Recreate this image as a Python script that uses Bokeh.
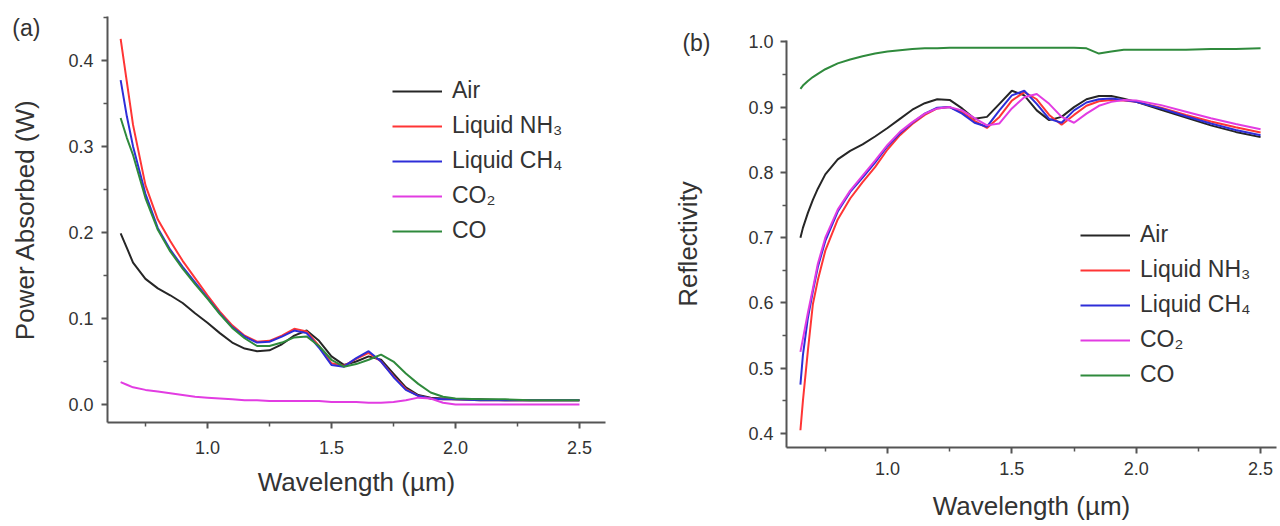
from bokeh.plotting import figure
from bokeh.layouts import row, column
from bokeh.models import Range1d, FixedTicker, Legend, LegendItem, Label, NumeralTickFormatter
from bokeh.embed import file_html
from bokeh.resources import INLINE

# ---------------- data ----------------
series_names = ["Air", "Liquid NH\u2083", "Liquid CH\u2084", "CO\u2082", "CO"]
series_colors = ["#262626", "#ff3535", "#2e2ed8", "#e23ce2", "#2f8a3c"]

# Panel (a): power absorbed (W)
wl_a = [0.65, 0.675, 0.7, 0.75, 0.8, 0.85, 0.9, 0.95, 1.0, 1.05, 1.1, 1.15, 1.2, 1.25,
        1.3, 1.35, 1.4, 1.45, 1.5, 1.55, 1.6, 1.65, 1.7, 1.75, 1.8, 1.85, 1.9, 1.95,
        2.0, 2.1, 2.2, 2.3, 2.4, 2.5]
a_air = [0.199, 0.182, 0.165, 0.146, 0.135, 0.127, 0.118, 0.106, 0.095, 0.083, 0.072, 0.065,
         0.062, 0.063, 0.070, 0.080, 0.086, 0.074, 0.056, 0.046, 0.050, 0.056, 0.052, 0.036,
         0.020, 0.011, 0.008, 0.007, 0.006, 0.006, 0.005, 0.005, 0.005, 0.005]
a_nh3 = [0.425, 0.375, 0.325, 0.255, 0.215, 0.190, 0.167, 0.147, 0.127, 0.108, 0.092, 0.080,
         0.073, 0.074, 0.080, 0.088, 0.085, 0.068, 0.048, 0.045, 0.053, 0.060, 0.050, 0.033,
         0.018, 0.010, 0.007, 0.006, 0.006, 0.005, 0.005, 0.005, 0.005, 0.005]
a_ch4 = [0.377, 0.335, 0.300, 0.245, 0.205, 0.180, 0.160, 0.142, 0.124, 0.106, 0.090, 0.079,
         0.072, 0.073, 0.079, 0.086, 0.083, 0.066, 0.046, 0.044, 0.054, 0.062, 0.050, 0.032,
         0.017, 0.010, 0.007, 0.006, 0.006, 0.005, 0.005, 0.005, 0.005, 0.005]
a_co2 = [0.026, 0.023, 0.020, 0.017, 0.015, 0.013, 0.011, 0.009, 0.008, 0.007, 0.006, 0.005,
         0.005, 0.004, 0.004, 0.004, 0.004, 0.004, 0.003, 0.003, 0.003, 0.002, 0.002, 0.003,
         0.005, 0.008, 0.007, 0.002, 0.000, 0.000, 0.000, 0.000, 0.000, 0.000]
a_co = [0.333, 0.310, 0.290, 0.240, 0.203, 0.178, 0.158, 0.140, 0.123, 0.105, 0.089, 0.077,
        0.068, 0.068, 0.072, 0.078, 0.079, 0.068, 0.052, 0.044, 0.047, 0.052, 0.058, 0.050,
        0.036, 0.024, 0.014, 0.009, 0.007, 0.006, 0.006, 0.005, 0.005, 0.005]

# Panel (b): reflectivity
wl_b = [0.65, 0.66, 0.68, 0.7, 0.72, 0.75, 0.8, 0.85, 0.9, 0.95, 1.0, 1.05, 1.1, 1.15, 1.2,
        1.25, 1.3, 1.35, 1.4, 1.45, 1.5, 1.55, 1.6, 1.65, 1.7, 1.75, 1.8, 1.85, 1.9, 1.95,
        2.0, 2.1, 2.2, 2.3, 2.4, 2.5]
b_air = [0.700, 0.715, 0.738, 0.758, 0.775, 0.797, 0.820, 0.833, 0.843, 0.855, 0.868, 0.882,
         0.896, 0.906, 0.912, 0.911, 0.898, 0.882, 0.885, 0.905, 0.925, 0.918, 0.895, 0.880,
         0.885, 0.900, 0.912, 0.917, 0.917, 0.913, 0.908, 0.896, 0.884, 0.872, 0.862, 0.854]
b_nh3 = [0.405, 0.450, 0.527, 0.598, 0.635, 0.680, 0.728, 0.760, 0.785, 0.808, 0.835, 0.857,
         0.874, 0.888, 0.898, 0.900, 0.892, 0.879, 0.868, 0.885, 0.910, 0.923, 0.912, 0.888,
         0.873, 0.888, 0.902, 0.909, 0.911, 0.910, 0.908, 0.899, 0.888, 0.878, 0.869, 0.861]
b_ch4 = [0.475, 0.520, 0.577, 0.618, 0.655, 0.695, 0.740, 0.770, 0.792, 0.815, 0.840, 0.860,
         0.876, 0.890, 0.899, 0.900, 0.890, 0.876, 0.870, 0.895, 0.918, 0.925, 0.905, 0.882,
         0.876, 0.895, 0.907, 0.912, 0.913, 0.911, 0.908, 0.898, 0.886, 0.875, 0.865, 0.857]
b_co2 = [0.525, 0.545, 0.585, 0.622, 0.660, 0.700, 0.743, 0.772, 0.795, 0.818, 0.842, 0.862,
         0.877, 0.890, 0.898, 0.900, 0.895, 0.883, 0.872, 0.875, 0.898, 0.915, 0.920, 0.905,
         0.885, 0.876, 0.890, 0.902, 0.908, 0.911, 0.910, 0.903, 0.893, 0.883, 0.874, 0.866]
b_co = [0.928, 0.933, 0.940, 0.946, 0.951, 0.958, 0.967, 0.973, 0.978, 0.982, 0.985, 0.987,
        0.989, 0.990, 0.990, 0.991, 0.991, 0.991, 0.991, 0.991, 0.991, 0.991, 0.991, 0.991,
        0.991, 0.991, 0.990, 0.982, 0.985, 0.988, 0.988, 0.988, 0.988, 0.989, 0.989, 0.990]

x_major_ticks = [1.0, 1.5, 2.0, 2.5]
x_minor_ticks = [0.75, 1.25, 1.75, 2.25]
ya_major_ticks = [0.0, 0.1, 0.2, 0.3, 0.4]
ya_minor_ticks = [0.05, 0.15, 0.25, 0.35, 0.45]
yb_major_ticks = [0.4, 0.5, 0.6, 0.7, 0.8, 0.9, 1.0]
yb_minor_ticks = [0.45, 0.55, 0.65, 0.75, 0.85, 0.95]

FONT = "Liberation Sans"
TXT = "#333333"
AX = "#555555"


def style_axes(p, xt_standoff, yt_standoff, xl_standoff, yl_standoff):
    for ax in (p.xaxis[0], p.yaxis[0]):
        ax.axis_line_color = AX
        ax.axis_line_width = 2
        ax.major_tick_line_color = AX
        ax.major_tick_line_width = 2
        ax.minor_tick_line_color = AX
        ax.minor_tick_line_width = 1.5
        ax.major_tick_out = 6
        ax.major_tick_in = 0
        ax.minor_tick_out = 4
        ax.minor_tick_in = 0
        ax.major_label_text_font = FONT
        ax.major_label_text_font_size = "18px"
        ax.major_label_text_color = TXT
        ax.axis_label_text_font = FONT
        ax.axis_label_text_font_size = "26px"
        ax.axis_label_text_font_style = "normal"
        ax.axis_label_text_color = TXT
        ax.formatter = NumeralTickFormatter(format="0.0")
    p.xaxis[0].major_label_standoff = xt_standoff
    p.yaxis[0].major_label_standoff = yt_standoff
    p.xaxis[0].axis_label_standoff = xl_standoff
    p.yaxis[0].axis_label_standoff = yl_standoff
    p.xgrid.visible = False
    p.ygrid.visible = False
    p.outline_line_color = None


def add_lines(p, xs, ys_list, loc):
    items = []
    for name, col, ys in zip(series_names, series_colors, ys_list):
        r = p.line(xs, ys, line_color=col, line_width=2)
        items.append(LegendItem(label=name, renderers=[r]))
    lg = Legend(items=items, location=loc, padding=0, margin=0, spacing=8,
                label_height=26, glyph_height=26, glyph_width=50, label_standoff=10,
                label_text_font=FONT, label_text_font_size="23px", label_text_color=TXT,
                border_line_alpha=0, background_fill_alpha=0)
    p.add_layout(lg, "center")


# ---------------- panel (a) ----------------
pa = figure(width=640, height=526, output_backend="svg", toolbar_location=None, title=None,
            x_range=Range1d(0.597, 2.605), y_range=Range1d(-0.0209, 0.451),
            min_border_left=107, min_border_right=35, min_border_top=16, min_border_bottom=104,
            x_axis_label="Wavelength (\u00b5m)", y_axis_label="Power Absorbed (W)")
pa.xaxis[0].ticker = FixedTicker(ticks=x_major_ticks, minor_ticks=x_minor_ticks)
pa.yaxis[0].ticker = FixedTicker(ticks=ya_major_ticks, minor_ticks=ya_minor_ticks)
style_axes(pa, 12, 8, 10, 25)
add_lines(pa, wl_a, [a_air, a_nh3, a_ch4, a_co2, a_co], (285, 178))
pa.add_layout(Label(x=0.27, y=0.438, text="(a)", text_font=FONT, text_font_size="23px",
                    text_color=TXT, text_align="center", text_baseline="middle"), "right")

# ---------------- panel (b) ----------------
pb = figure(width=640, height=526, output_backend="svg", toolbar_location=None, title=None,
            x_range=Range1d(0.594, 2.564), y_range=Range1d(0.3786, 1.002),
            min_border_left=146, min_border_right=4, min_border_top=40, min_border_bottom=79,
            x_axis_label="Wavelength (\u00b5m)", y_axis_label="Reflectivity")
pb.xaxis[0].ticker = FixedTicker(ticks=x_major_ticks, minor_ticks=x_minor_ticks)
pb.yaxis[0].ticker = FixedTicker(ticks=yb_major_ticks, minor_ticks=yb_minor_ticks)
style_axes(pb, 8, 7, 13, 42)
add_lines(pb, wl_b, [b_air, b_nh3, b_ch4, b_co2, b_co], (294, 59))
pb.add_layout(Label(x=0.232, y=0.9985, text="(b)", text_font=FONT, text_font_size="23px",
                    text_color=TXT, text_align="center", text_baseline="middle"), "left")

layout = row(column(pa), column(pb))
open("out.html", "w").write(file_html(layout, INLINE))
